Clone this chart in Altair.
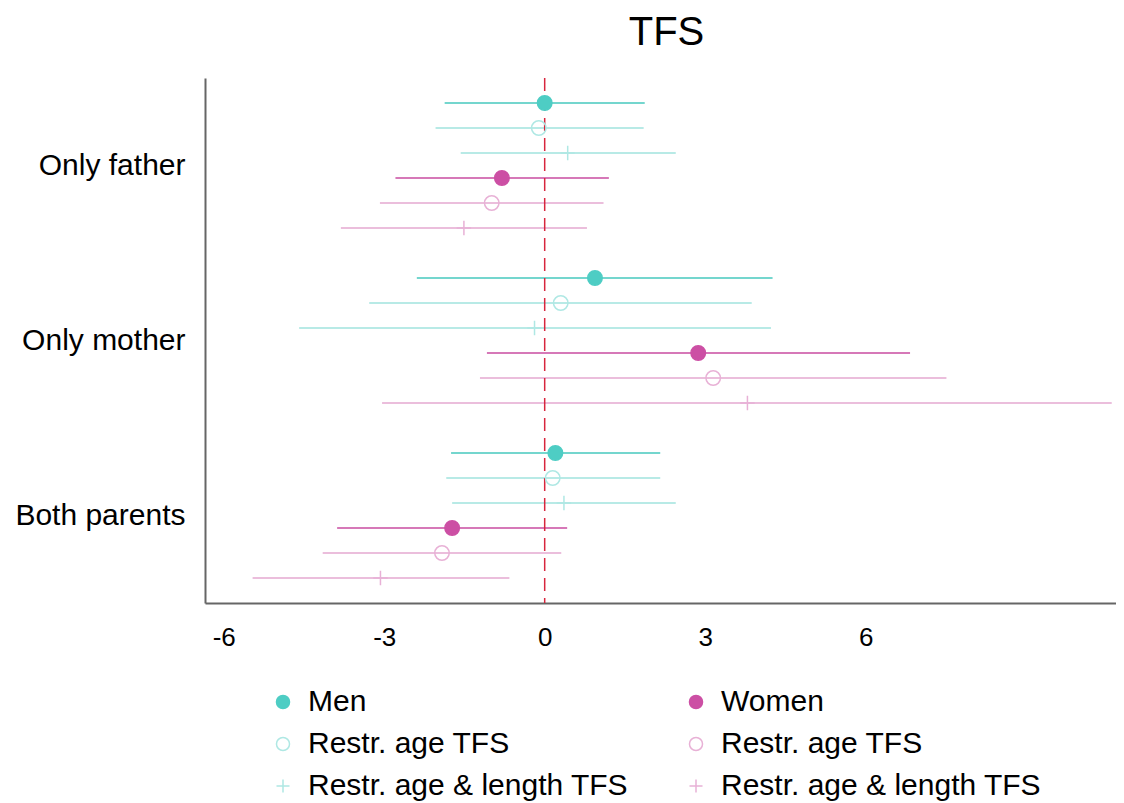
import altair as alt
import pandas as pd

# ---- data ----
groups = ["Only father", "Only mother", "Both parents"]

# row order inside each group (top to bottom)
series = [
    "Men",
    "Men: Restr. age TFS",
    "Men: Restr. age & length TFS",
    "Women",
    "Women: Restr. age TFS",
    "Women: Restr. age & length TFS",
]

# values per group: [Only father, Only mother, Both parents]
est_men = [0.00, 0.94, 0.20]
lo_men = [-1.87, -2.39, -1.75]
hi_men = [1.87, 4.26, 2.16]

est_men_age = [-0.11, 0.30, 0.15]
lo_men_age = [-2.04, -3.28, -1.84]
hi_men_age = [1.85, 3.87, 2.16]

est_men_len = [0.43, -0.19, 0.36]
lo_men_len = [-1.57, -4.59, -1.73]
hi_men_len = [2.45, 4.23, 2.45]

est_women = [-0.80, 2.87, -1.73]
lo_women = [-2.79, -1.08, -3.88]
hi_women = [1.20, 6.83, 0.42]

est_women_age = [-0.99, 3.15, -1.92]
lo_women_age = [-3.08, -1.21, -4.15]
hi_women_age = [1.10, 7.51, 0.31]

est_women_len = [-1.51, 3.79, -3.07]
lo_women_len = [-3.81, -3.04, -5.46]
hi_women_len = [0.79, 10.60, -0.66]

x_ticks = [-6, -3, 0, 3, 6]
zero_line = [0]

est_all = [est_men, est_men_age, est_men_len, est_women, est_women_age, est_women_len]
lo_all = [lo_men, lo_men_age, lo_men_len, lo_women, lo_women_age, lo_women_len]
hi_all = [hi_men, hi_men_age, hi_men_len, hi_women, hi_women_age, hi_women_len]

rows = []
for gi, g in enumerate(groups):
    for si, s in enumerate(series):
        rows.append({
            "group": g,
            "key": s,
            "pos": 1 + 7 * gi + si,
            "est": est_all[si][gi],
            "lo": lo_all[si][gi],
            "hi": hi_all[si][gi],
        })
df = pd.DataFrame(rows)

# ---- styles ----
TEAL = "#4ECDC4"
PINK = "#CC4FA4"
TEAL_L = "#AFE8E4"
PINK_L = "#E8B1D6"
line_colors = ["#74D6CE", "#B8EAE6", "#B8EAE6", "#D678B8", "#EBBEDC", "#EBBEDC"]
PLUS = "M-1,0L1,0M0,-1L0,1"

# legend is filled column by column: men in column 1, women in column 2
legend_order = series
stroke_range = [TEAL, TEAL_L, TEAL_L, PINK, PINK_L, PINK_L]
fill_range = [TEAL, "transparent", "transparent", PINK, "transparent", "transparent"]
shape_range = ["circle", "circle", PLUS, "circle", "circle", PLUS]

FONT = "Liberation Sans"
centers = [3.5 + 7 * i for i in range(len(groups))]
label_expr = " : ".join(
    [f"datum.value == {c} ? '{g}'" for c, g in zip(centers[:-1], groups[:-1])]
) + f" : '{groups[-1]}'"

y_scale = alt.Scale(domain=[0, 21], reverse=True, nice=False, zero=False)
y_axis = alt.Axis(
    values=centers, labelExpr=label_expr, title=None, ticks=False, tickSize=0,
    grid=False, domainColor="#666666", domainWidth=2, labelFontSize=30,
    labelFont=FONT, labelColor="black", labelPadding=20, labelLimit=300,
)
x_scale = alt.Scale(domain=[-6.35, 10.68], nice=False, zero=False)
x_axis = alt.Axis(
    values=x_ticks, title=None, ticks=False, tickSize=0, grid=False,
    domainColor="#666666", domainWidth=2, labelFontSize=26, labelFont=FONT,
    labelColor="black", labelPadding=21, labelExpr="datum.value + ''",
)

base = alt.Chart(df)

rules = base.mark_rule(strokeWidth=2.2).encode(
    x=alt.X("lo:Q", scale=x_scale, axis=x_axis),
    x2="hi:Q",
    y=alt.Y("pos:Q", scale=y_scale, axis=y_axis),
    color=alt.Color("key:N", scale=alt.Scale(domain=series, range=line_colors), legend=None),
)

zero = alt.Chart(pd.DataFrame({"lo": zero_line})).mark_rule(
    color="#D7263D", strokeDash=[13, 7], strokeWidth=1.5
).encode(x=alt.X("lo:Q", scale=x_scale, axis=x_axis))

leg = alt.Legend(
    title=None, orient="none", legendX=63, legendY=609, columns=2,
    columnPadding=52, rowPadding=12, labelFontSize=30, labelFont=FONT,
    labelColor="black", labelOffset=10, symbolSize=170, symbolStrokeWidth=1.5,
    padding=0, labelLimit=500,
    labelExpr="replace(replace(datum.label, 'Women: ', ''), 'Men: ', '')",
)

points = base.mark_point(opacity=1, strokeWidth=1.5, size=210).encode(
    x=alt.X("est:Q", scale=x_scale, axis=x_axis),
    y=alt.Y("pos:Q", scale=y_scale, axis=y_axis),
    stroke=alt.Stroke("key:N", scale=alt.Scale(domain=legend_order, range=stroke_range), legend=leg),
    fill=alt.Fill("key:N", scale=alt.Scale(domain=legend_order, range=fill_range), legend=leg),
    shape=alt.Shape("key:N", scale=alt.Scale(domain=legend_order, range=shape_range), legend=leg),
)

chart = alt.layer(rules, zero, points).resolve_scale(color="independent").properties(
    width=911,
    height=525,
    autosize=alt.AutoSizeParams(type="none"),
    padding={"left": 197, "top": 70, "right": 0, "bottom": 200},
    background="white",
    title=alt.Title("TFS", fontSize=40, font=FONT, color="black", fontWeight="normal",
                    anchor="middle", offset=24, dx=6),
).configure_view(strokeWidth=0).configure_axis(grid=False)

chart.save("out.html", embed_options={"renderer": "svg", "actions": False})
